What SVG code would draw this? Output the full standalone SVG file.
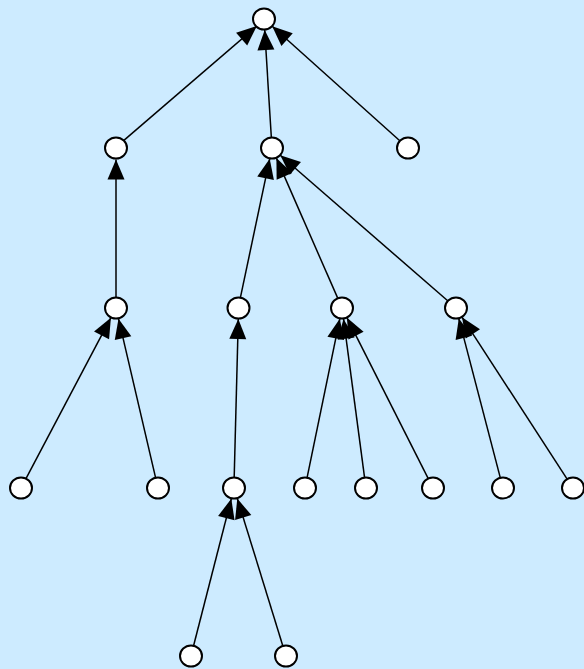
<svg xmlns="http://www.w3.org/2000/svg" width="584" height="669" viewBox="0 0 584 669">
  <style>
    .node ellipse { fill: #ffffff; stroke: #000000; stroke-width: 2; }
    .edges line { stroke: #000000; stroke-width: 1.5; marker-end: url(#arrow); }
  </style>
  <defs>
    <marker id="arrow" markerUnits="userSpaceOnUse" viewBox="0 0 20 17" refX="20" refY="8.5" markerWidth="20" markerHeight="17" orient="auto" overflow="visible">
      <path d="M0,0 L20,8.5 L0,17 Z" fill="#000000"/>
    </marker>
  </defs>
  <rect x="0" y="0" width="584" height="669" fill="#cdebff"/>

  <g id="connectors" class="edges">
    <line x1="123.0" y1="141.1" x2="256.8" y2="26.1"/>
    <line x1="271.3" y1="137.0" x2="264.7" y2="30.0"/>
    <line x1="399.8" y1="140.7" x2="272.2" y2="26.3"/>
    <line x1="116" y1="297.0" x2="116" y2="159.5"/>
    <line x1="240.5" y1="297.2" x2="269.7" y2="158.8"/>
    <line x1="337.6" y1="297.9" x2="276.4" y2="158.1"/>
    <line x1="447.7" y1="300.8" x2="280.3" y2="155.2"/>
    <line x1="26.1" y1="478.3" x2="110.9" y2="317.7"/>
    <line x1="155.5" y1="477.3" x2="118.5" y2="318.7"/>
    <line x1="234.2" y1="477.0" x2="238.3" y2="319.0"/>
    <line x1="307.2" y1="477.2" x2="339.8" y2="318.8"/>
    <line x1="364.5" y1="477.1" x2="343.5" y2="318.9"/>
    <line x1="428.0" y1="478.2" x2="347.0" y2="317.8"/>
    <line x1="500.2" y1="477.4" x2="458.8" y2="318.6"/>
    <line x1="567.0" y1="478.8" x2="462.0" y2="317.2"/>
    <line x1="193.7" y1="645.3" x2="231.3" y2="498.7"/>
    <line x1="282.7" y1="645.5" x2="237.3" y2="498.5"/>
  </g>

  <g id="n0" class="node"><ellipse cx="264" cy="19" rx="11" ry="10.5"/></g>
  <g id="n1" class="node"><ellipse cx="116" cy="148" rx="11" ry="10.5"/></g>
  <g id="n2" class="node"><ellipse cx="272" cy="148" rx="11" ry="10.5"/></g>
  <g id="n3" class="node"><ellipse cx="408" cy="148" rx="11" ry="10.5"/></g>
  <g id="n4" class="node"><ellipse cx="116" cy="308" rx="11" ry="10.5"/></g>
  <g id="n5" class="node"><ellipse cx="238.5" cy="308" rx="11" ry="10.5"/></g>
  <g id="n6" class="node"><ellipse cx="342" cy="308" rx="11" ry="10.5"/></g>
  <g id="n7" class="node"><ellipse cx="456" cy="308" rx="11" ry="10.5"/></g>
  <g id="n8" class="node"><ellipse cx="21" cy="488" rx="11" ry="10.5"/></g>
  <g id="n9" class="node"><ellipse cx="158" cy="488" rx="11" ry="10.5"/></g>
  <g id="n10" class="node"><ellipse cx="234" cy="488" rx="11" ry="10.5"/></g>
  <g id="n11" class="node"><ellipse cx="305" cy="488" rx="11" ry="10.5"/></g>
  <g id="n12" class="node"><ellipse cx="366" cy="488" rx="11" ry="10.5"/></g>
  <g id="n13" class="node"><ellipse cx="433" cy="488" rx="11" ry="10.5"/></g>
  <g id="n14" class="node"><ellipse cx="503" cy="488" rx="11" ry="10.5"/></g>
  <g id="n15" class="node"><ellipse cx="573" cy="488" rx="11" ry="10.5"/></g>
  <g id="n16" class="node"><ellipse cx="191" cy="656" rx="11" ry="10.5"/></g>
  <g id="n17" class="node"><ellipse cx="286" cy="656" rx="11" ry="10.5"/></g>
</svg>
